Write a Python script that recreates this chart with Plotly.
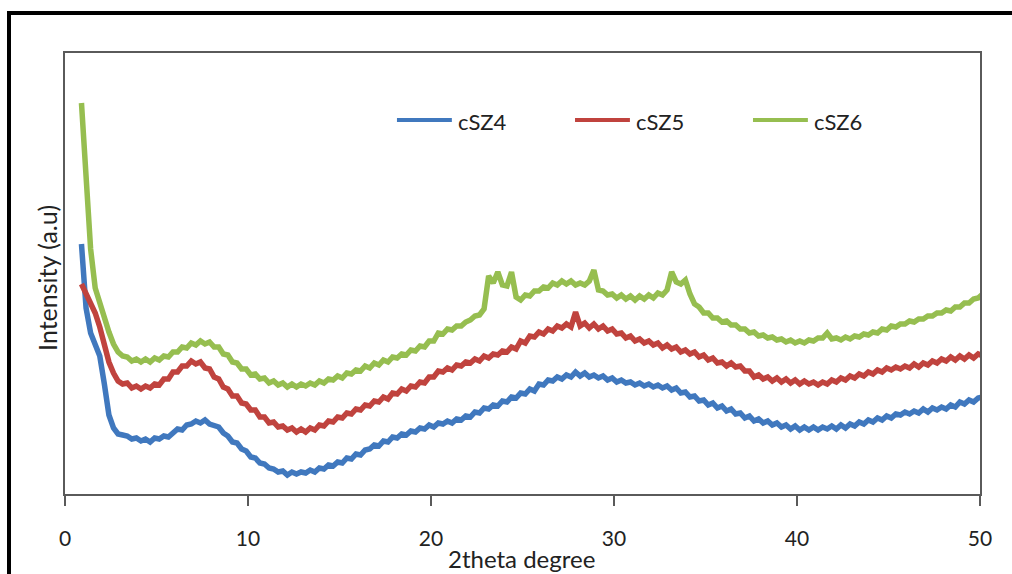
import plotly.graph_objects as go

# XRD scan: 2theta start / step (degrees)
TWO_THETA_START = 0.9
TWO_THETA_STEP = 0.25

# Intensities (a.u.), one value per scan step
cSZ4 = [
    250, 186, 161, 148, 138, 110, 79, 66, 60, 59,
    58, 55, 56, 53, 55, 52, 56, 55, 58, 57,
    61, 65, 64, 69, 70, 73, 71, 74, 70, 69,
    67, 61, 58, 52, 51, 45, 43, 37, 36, 31,
    30, 26, 25, 22, 23, 19, 22, 20, 22, 21,
    24, 22, 26, 25, 29, 28, 32, 31, 36, 35,
    40, 39, 44, 45, 49, 48, 53, 52, 57, 56,
    60, 59, 63, 62, 66, 65, 69, 67, 71, 70,
    73, 71, 75, 74, 78, 77, 82, 81, 86, 85,
    89, 88, 93, 92, 97, 96, 101, 100, 105, 103,
    110, 109, 114, 113, 117, 115, 119, 117, 122, 118,
    121, 117, 119, 116, 118, 114, 116, 112, 114, 111,
    112, 109, 111, 108, 110, 107, 109, 106, 108, 104,
    106, 101, 102, 97, 98, 93, 94, 89, 91, 86,
    88, 83, 85, 80, 81, 76, 78, 73, 75, 71,
    73, 69, 71, 67, 69, 65, 68, 64, 67, 64,
    67, 64, 67, 65, 68, 65, 69, 66, 70, 68,
    72, 70, 74, 72, 76, 74, 78, 76, 80, 79,
    82, 80, 83, 81, 85, 82, 86, 84, 87, 85,
    89, 87, 92, 90, 94, 92, 96, 97,
]

cSZ5 = [
    210, 201, 193, 181, 167, 151, 132, 121, 113, 110,
    111, 106, 108, 105, 108, 106, 110, 109, 115, 115,
    122, 122, 128, 128, 133, 130, 132, 126, 125, 117,
    115, 107, 105, 98, 98, 91, 90, 84, 84, 77,
    77, 71, 72, 67, 68, 64, 66, 62, 65, 62,
    66, 64, 69, 68, 73, 72, 77, 76, 81, 80,
    85, 84, 89, 88, 93, 92, 97, 95, 101, 100,
    105, 103, 108, 107, 112, 111, 117, 117, 123, 122,
    126, 124, 129, 128, 132, 131, 135, 133, 138, 136,
    140, 139, 143, 142, 147, 145, 153, 151, 158, 157,
    162, 160, 165, 163, 168, 166, 170, 167, 182, 168,
    171, 166, 170, 165, 168, 163, 165, 160, 161, 156,
    158, 153, 155, 151, 153, 149, 151, 146, 149, 145,
    147, 142, 144, 140, 142, 137, 139, 134, 136, 131,
    132, 128, 131, 127, 128, 123, 123, 117, 119, 115,
    117, 113, 116, 112, 115, 111, 114, 110, 113, 110,
    112, 109, 112, 110, 114, 112, 116, 114, 118, 116,
    120, 118, 122, 120, 124, 122, 126, 124, 127, 125,
    128, 126, 130, 127, 131, 129, 133, 131, 135, 133,
    137, 134, 138, 135, 139, 136, 140, 138,
]

cSZ6 = [
    391, 310, 245, 206, 190, 174, 162, 150, 142, 138,
    137, 133, 135, 132, 135, 132, 136, 134, 138, 137,
    142, 142, 147, 146, 151, 149, 153, 150, 152, 147,
    147, 140, 139, 132, 131, 125, 125, 119, 120, 115,
    116, 111, 113, 109, 111, 107, 110, 107, 110, 108,
    111, 109, 113, 111, 115, 114, 118, 116, 121, 120,
    124, 123, 128, 126, 131, 129, 134, 132, 137, 136,
    140, 139, 144, 143, 148, 147, 153, 153, 161, 160,
    165, 164, 168, 168, 172, 174, 178, 179, 185, 218,
    211, 222, 209, 208, 222, 197, 194, 199, 198, 203,
    203, 207, 206, 211, 209, 213, 210, 213, 209, 211,
    209, 213, 224, 204, 203, 199, 200, 196, 199, 195,
    198, 194, 198, 195, 199, 196, 201, 199, 204, 222,
    212, 210, 214, 200, 190, 187, 181, 181, 176, 176,
    172, 173, 169, 169, 165, 165, 161, 162, 158, 159,
    156, 157, 154, 155, 152, 154, 151, 153, 151, 154,
    153, 156, 156, 161, 155, 156, 154, 157, 155, 158,
    157, 160, 159, 162, 161, 165, 164, 168, 167, 170,
    170, 173, 172, 175, 175, 178, 178, 181, 181, 184,
    183, 187, 187, 191, 191, 195, 196, 200,
]

series_names = ["cSZ4", "cSZ5", "cSZ6"]
series_values = [cSZ4, cSZ5, cSZ6]
series_colors = ["#4078BE", "#C0433E", "#96BE50"]

x_ticks = [0, 10, 20, 30, 40, 50]

two_theta = [round(TWO_THETA_START + TWO_THETA_STEP * i, 3) for i in range(len(cSZ4))]

FONT = "Lato"
TEXT_COLOR = "#222222"
AXIS_COLOR = "#5a5a5a"

fig = go.Figure()
for name, vals, col in zip(series_names, series_values, series_colors):
    fig.add_trace(go.Scatter(
        x=two_theta, y=vals, mode="lines", name=name,
        line=dict(color=col, width=5.5), showlegend=False,
    ))

# Legend drawn as short line swatches with labels
legend_x = [0.3628, 0.5574, 0.7519]
legend_y = 0.848
for name, col, lx in zip(series_names, series_colors, legend_x):
    fig.add_shape(type="line", xref="paper", yref="paper",
                  x0=lx, x1=lx + 0.060, y0=legend_y, y1=legend_y,
                  line=dict(color=col, width=4))
    fig.add_annotation(x=lx + 0.0645, y=legend_y - 0.003, xref="paper", yref="paper",
                       text=name, showarrow=False, xanchor="left", yanchor="middle",
                       font=dict(family=FONT, size=22, color=TEXT_COLOR))

# Axis titles
fig.add_annotation(x=0.4984, y=-0.147, xref="paper", yref="paper",
                   text="2theta degree", showarrow=False,
                   xanchor="center", yanchor="middle",
                   font=dict(family=FONT, size=24, color=TEXT_COLOR))
fig.add_annotation(x=-0.0197, y=0.49, xref="paper", yref="paper",
                   text="Intensity (a.u)", showarrow=False, textangle=-90,
                   xanchor="center", yanchor="middle",
                   font=dict(family=FONT, size=25, color=TEXT_COLOR))

# Outer chart frame
fig.add_shape(type="rect", xref="paper", yref="paper",
              x0=-0.0612, x1=1.2, y0=-0.4, y1=1.0907,
              line=dict(color="black", width=4), layer="above")

fig.update_layout(
    width=1012, height=574,
    margin=dict(l=65, r=32, t=53, b=80),
    paper_bgcolor="white", plot_bgcolor="white",
    xaxis=dict(
        range=[0, 50], tickvals=x_ticks, ticktext=[str(t) for t in x_ticks],
        showgrid=False, zeroline=False,
        showline=True, linecolor=AXIS_COLOR, linewidth=1.5, mirror=True,
        ticks="outside", ticklen=10, tickwidth=1.5, tickcolor=AXIS_COLOR,
        ticklabelstandoff=15,
        tickfont=dict(family=FONT, size=21, color=TEXT_COLOR),
    ),
    yaxis=dict(
        range=[0, 441], showticklabels=False, ticks="",
        showgrid=False, zeroline=False,
        showline=True, linecolor=AXIS_COLOR, linewidth=1.5, mirror=True,
    ),
)

fig.write_html("out.html")
